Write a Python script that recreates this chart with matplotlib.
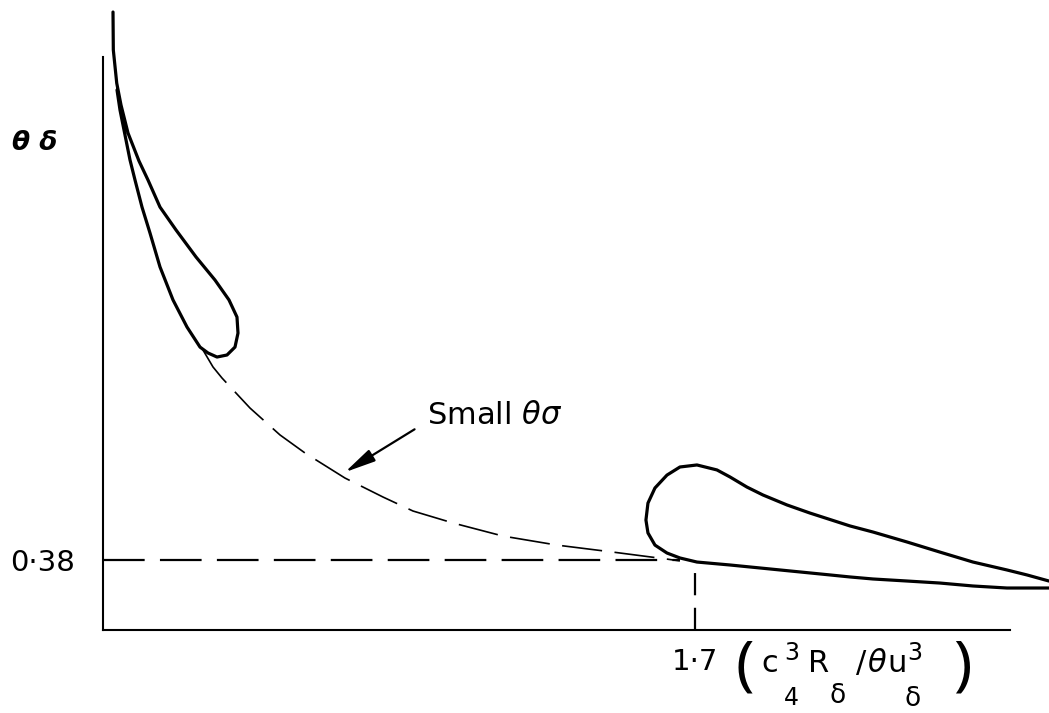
import matplotlib.pyplot as plt

# upper-left loop hanging off the y axis
left_loop_x = [0.0287, 0.0296, 0.0394, 0.0517, 0.0718, 0.1034, 0.1292, 0.1637,
               0.2096, 0.2672, 0.3216, 0.3618, 0.3848, 0.3877, 0.3791, 0.3561,
               0.3274, 0.3015, 0.2786, 0.2412, 0.2010, 0.1637, 0.1350, 0.1120,
               0.0919, 0.0775, 0.0632, 0.0488, 0.0402]
left_loop_y = [3.355, 3.149, 2.969, 2.850, 2.698, 2.546, 2.443, 2.296,
               2.172, 2.025, 1.900, 1.792, 1.699, 1.612, 1.536, 1.493,
               1.482, 1.504, 1.536, 1.645, 1.792, 1.971, 2.155, 2.296,
               2.443, 2.552, 2.687, 2.823, 2.932]

# small theta-sigma branch (dashed)
small_x = [0.2872, 0.3159, 0.3418, 0.4222, 0.5083, 0.5801, 0.6950, 0.8041,
           0.8903, 1.0052, 1.1488, 1.3038, 1.4647, 1.6198, 1.6570]
small_y = [1.520, 1.428, 1.368, 1.205, 1.059, 0.961, 0.825, 0.722,
           0.646, 0.581, 0.510, 0.461, 0.423, 0.385, 0.375]

# lower-right loop, from the lower branch round to the upper one
right_loop_x = [2.7168, 2.5962, 2.4986, 2.4038, 2.3090, 2.2114, 2.1453, 2.0879,
                1.9443, 1.8007, 1.7059, 1.6571, 1.6198, 1.5853, 1.5652, 1.5594,
                1.5652, 1.5853, 1.6198, 1.6571, 1.7059, 1.7633, 1.8007, 1.8495,
                1.8955, 1.9644, 2.0304, 2.0879, 2.1453, 2.2114, 2.3090, 2.4038,
                2.4986, 2.5962, 2.6537, 2.7168]
right_loop_y = [0.228, 0.228, 0.239, 0.255, 0.266, 0.277, 0.288, 0.299,
                0.326, 0.353, 0.369, 0.391, 0.418, 0.461, 0.527, 0.597,
                0.689, 0.771, 0.841, 0.885, 0.896, 0.869, 0.831, 0.776,
                0.733, 0.679, 0.635, 0.600, 0.565, 0.532, 0.478, 0.423,
                0.369, 0.326, 0.299, 0.266]

y_ref = 0.38
x_ref = 1.7
y_ref_label = '0·38'
x_ref_label = '1·7'

plt.rcParams['lines.scale_dashes'] = False
plt.rcParams['font.family'] = ['DejaVu Sans']
plt.rcParams['mathtext.fontset'] = 'dejavusans'

fig = plt.figure(figsize=(10.49, 7.13), dpi=100)
ax = fig.add_axes([0.0982, 0.1164, 0.8646, 0.8037])
ax.set_xlim(0, 2.605)
ax.set_ylim(0, 3.111)

for s in ['top', 'right']:
    ax.spines[s].set_visible(False)
for s in ['left', 'bottom']:
    ax.spines[s].set_linewidth(1.5)

loop_kw = dict(color='k', lw=2.3, clip_on=False,
               solid_joinstyle='round', solid_capstyle='round')
ax.plot(left_loop_x, left_loop_y, **loop_kw)
ax.plot(right_loop_x, right_loop_y, **loop_kw)
ax.plot(small_x, small_y, color='k', lw=1.2, dashes=(29, 9), clip_on=False)

# reference lines at the crossing point
ax.plot([0, right_loop_x[11]], [y_ref, y_ref], color='k', lw=1.6, dashes=(30, 11))
ax.plot([x_ref, x_ref], [0, right_loop_y[10]], color='k', lw=1.6, dashes=(16, 9))

ax.annotate('Small $\\theta\\sigma$', xy=(0.695, 0.857), xytext=(0.930, 1.162),
            fontsize=22, va='center', ha='left',
            arrowprops=dict(arrowstyle='-|>,head_length=0.85,head_width=0.18',
                            color='k', lw=1.6, shrinkA=8, shrinkB=0,
                            relpos=(0, 0.3)))

ax.set_xticks([x_ref])
ax.set_xticklabels([x_ref_label])
ax.set_yticks([y_ref])
ax.set_yticklabels([y_ref_label])
ax.tick_params(length=0, labelsize=21)
ax.tick_params(axis='x', pad=13)
ax.tick_params(axis='y', pad=20)

ax.text(-0.261, 2.644, 'θ δ', fontsize=19, fontweight='bold', style='italic',
        va='center', ha='left')

# x-axis quantity, set piece by piece so the indices stay large
W, H = 1049, 713
def put(s, x, y, size, **kw):
    fig.text(x / W, 1 - y / H, s, fontsize=size, ha='center', **kw)

paren = dict(va='center', family=['Noto Sans', 'DejaVu Sans'], fontweight='light')
put('(', 745, 668, 44, **paren)
put('c', 770, 672, 22, va='baseline')
put('3', 792, 660, 17, va='baseline')
put('4', 791, 705, 17, va='baseline')
put('R', 819, 672, 22, va='baseline')
put('δ', 838, 703, 19, va='baseline')
put('/', 861, 672, 22, va='baseline')
put('θ', 877, 672, 22, va='baseline', style='italic')
put('u', 897, 672, 22, va='baseline')
put('3', 915, 660, 17, va='baseline')
put('δ', 913, 706, 19, va='baseline')
put(')', 962, 668, 44, **paren)

fig.savefig('out.png', dpi=100)
